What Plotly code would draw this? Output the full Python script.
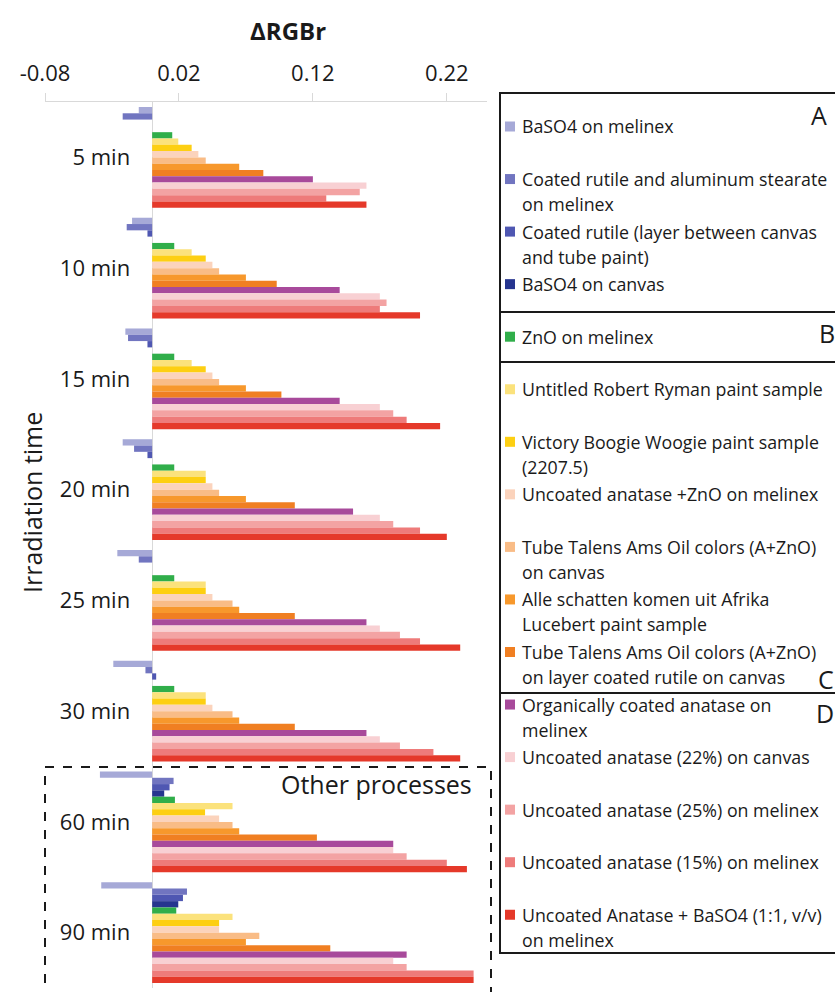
import plotly.graph_objects as go

# ---------------------------------------------------------------- data
times = ["5 min", "10 min", "15 min", "20 min", "25 min", "30 min", "60 min", "90 min"]

tick_values = [-0.08, 0.02, 0.12, 0.22]
tick_labels = ["-0.08", "0.02", "0.12", "0.22"]

series_names = [
    "BaSO4 on melinex",
    "Coated rutile and aluminum stearate<br>on melinex",
    "Coated rutile (layer between canvas<br>and tube paint)",
    "BaSO4 on canvas",
    "ZnO on melinex",
    "Untitled Robert Ryman paint sample",
    "Victory Boogie Woogie paint sample<br>(2207.5)",
    "Uncoated anatase +ZnO on melinex",
    "Tube Talens Ams Oil colors (A+ZnO)<br>on canvas",
    "Alle schatten komen uit Afrika<br>Lucebert paint sample",
    "Tube Talens Ams Oil colors (A+ZnO)<br>on layer coated rutile on canvas",
    "Organically coated anatase on<br>melinex",
    "Uncoated anatase (22%) on canvas",
    "Uncoated anatase (25%) on melinex",
    "Uncoated anatase (15%) on melinex",
    "Uncoated Anatase + BaSO4 (1:1, v/v)<br>on melinex",
]

series_colors = [
    "#a6a9d7", "#7175c0", "#4f57b2", "#26358f", "#30ae4a", "#fbe27c",
    "#fdcf12", "#fbd3bc", "#f9bc86", "#f7982c", "#f07f22", "#a84a9b",
    "#f8d0d3", "#f3a3a3", "#ee7b7a", "#e5392a",
]

baso4_melinex = [-0.010, -0.015, -0.020, -0.022, -0.026, -0.029, -0.039, -0.038]
rutile_alst   = [-0.022, -0.019, -0.018, -0.0135, -0.010, -0.005, 0.016, 0.026]
rutile_layer  = [None, -0.0035, -0.0035, -0.0035, None, 0.003, 0.013, 0.023]
baso4_canvas  = [None, None, None, None, None, None, 0.009, 0.0195]
zno_melinex   = [0.015, 0.0165, 0.0165, 0.0165, 0.0165, 0.0165, 0.017, 0.018]
ryman         = [0.0195, 0.0295, 0.0295, 0.040, 0.040, 0.040, 0.060, 0.060]
boogie        = [0.0295, 0.040, 0.040, 0.040, 0.040, 0.040, 0.0395, 0.050]
anatase_zno   = [0.0345, 0.045, 0.045, 0.045, 0.045, 0.045, 0.050, 0.050]
talens_canvas = [0.040, 0.050, 0.050, 0.050, 0.060, 0.060, 0.060, 0.080]
lucebert      = [0.065, 0.070, 0.070, 0.070, 0.065, 0.065, 0.065, 0.070]
talens_rutile = [0.083, 0.093, 0.0965, 0.1065, 0.1065, 0.1065, 0.123, 0.133]
org_anatase   = [0.120, 0.140, 0.140, 0.150, 0.160, 0.160, 0.180, 0.190]
anatase_22    = [0.160, 0.170, 0.170, 0.170, 0.170, 0.170, 0.180, 0.180]
anatase_25    = [0.155, 0.175, 0.180, 0.180, 0.185, 0.185, 0.190, 0.190]
anatase_15    = [0.130, 0.170, 0.190, 0.200, 0.200, 0.210, 0.220, 0.240]
anatase_baso4 = [0.160, 0.200, 0.215, 0.220, 0.230, 0.230, 0.235, 0.240]

series_values = [
    baso4_melinex, rutile_alst, rutile_layer, baso4_canvas, zno_melinex,
    ryman, boogie, anatase_zno, talens_canvas, lucebert, talens_rutile,
    org_anatase, anatase_22, anatase_25, anatase_15, anatase_baso4,
]

# legend sections: (letter, first series index, last series index)
sections = [("A", 0, 3), ("B", 4, 4), ("C", 5, 10), ("D", 11, 15)]

# ---------------------------------------------------------------- geometry
W, H = 835, 992
ML, MR, MT, MB = 45, 348, 102, 4
PW, PH = W - ML - MR, H - MT - MB
X_MIN, X_MAX = -0.08, 0.25
FONT = "Open Sans"
INK = "#1a1a1a"


def fx(px):
    """pixel x -> paper x"""
    return (px - ML) / PW


def fy(py):
    """pixel y -> paper y"""
    return 1 - (py - MT) / PH


zero_pos = (0 - X_MIN) / (X_MAX - X_MIN)

fig = go.Figure()
for name, color, vals in zip(series_names, series_colors, series_values):
    fig.add_trace(go.Bar(
        y=times, x=vals, orientation="h", name=name.replace("<br>", " "),
        marker=dict(color=color, line=dict(width=0)), showlegend=False,
    ))

shapes = []
annotations = []

# legend frame with its four sections
box_left, box_right = 500, 845
section_edges = [93, 312, 362, 693, 953]
for i in range(len(sections)):
    shapes.append(dict(
        type="rect", xref="paper", yref="paper",
        x0=fx(box_left), x1=fx(box_right),
        y0=fy(section_edges[i]), y1=fy(section_edges[i + 1]),
        line=dict(color=INK, width=2), fillcolor="rgba(0,0,0,0)", layer="above",
    ))

letter_pos = {"A": (809, 115), "B": (817, 333), "C": (816, 679), "D": (814, 713)}
for letter, _, _ in sections:
    lx, ly = letter_pos[letter]
    annotations.append(dict(
        xref="paper", yref="paper", x=fx(lx), y=fy(ly), text=letter,
        showarrow=False, xanchor="left", yanchor="middle",
        font=dict(family=FONT, size=25, color=INK),
    ))

# legend entries
entry_top, entry_step, line_step = 126.5, 52.55, 25
for i, (name, color) in enumerate(zip(series_names, series_colors)):
    cy = entry_top + i * entry_step
    shapes.append(dict(
        type="rect", xref="paper", yref="paper",
        x0=fx(505), x1=fx(515), y0=fy(cy - 5), y1=fy(cy + 5),
        line=dict(width=0), fillcolor=color,
    ))
    for j, line in enumerate(name.split("<br>")):
        annotations.append(dict(
            xref="paper", yref="paper", x=fx(520), y=fy(cy + j * line_step),
            text=line, showarrow=False, xanchor="left", yanchor="middle",
            font=dict(family=FONT, size=17.8, color=INK),
        ))

# dashed frame around the longer exposures
shapes.append(dict(
    type="rect", xref="paper", yref="paper",
    x0=fx(45), x1=fx(491), y0=fy(767), y1=fy(1005),
    line=dict(color=INK, width=2, dash="dash"), fillcolor="rgba(0,0,0,0)",
))
annotations.append(dict(
    xref="paper", yref="paper", x=fx(474), y=fy(784), text="Other processes",
    showarrow=False, xanchor="right", yanchor="middle",
    font=dict(family=FONT, size=25, color=INK),
))

# axis titles
annotations.append(dict(
    xref="paper", yref="paper", x=fx(288), y=fy(31), text="<b>ΔRGBr</b>",
    showarrow=False, xanchor="center", yanchor="middle",
    font=dict(family=FONT, size=24, color=INK),
))
annotations.append(dict(
    xref="paper", yref="paper", x=fx(32), y=fy(503), text="Irradiation time",
    showarrow=False, textangle=-90, xanchor="center", yanchor="middle",
    font=dict(family=FONT, size=25, color=INK),
))

fig.update_layout(
    width=W, height=H,
    margin=dict(l=ML, r=MR, t=MT, b=MB, autoexpand=False),
    paper_bgcolor="white", plot_bgcolor="white",
    barmode="group", bargap=0.09, bargroupgap=0,
    font=dict(family=FONT, color=INK),
    shapes=shapes, annotations=annotations,
    xaxis=dict(
        side="top", range=[X_MIN, X_MAX],
        tickmode="array", tickvals=tick_values, ticktext=tick_labels,
        ticks="outside", ticklen=8, tickcolor="#d9d9d9", tickwidth=1,
        showline=True, linecolor="#d9d9d9", linewidth=1,
        showgrid=False, zeroline=True, zerolinecolor="#d9d9d9", zerolinewidth=1,
        tickfont=dict(family=FONT, size=22, color=INK),
        ticklabelstandoff=3,
        automargin=False,
    ),
    yaxis=dict(
        type="category", categoryorder="array", categoryarray=times,
        autorange="reversed", anchor="free", position=zero_pos,
        showline=False, showgrid=False, zeroline=False, ticks="",
        ticklabelstandoff=22,
        tickfont=dict(family=FONT, size=22, color=INK),
        automargin=False,
    ),
)

fig.write_html("out.html")
